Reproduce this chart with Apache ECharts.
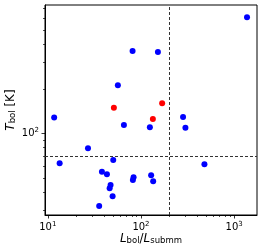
<!DOCTYPE html>
<html><head><meta charset="utf-8">
<script src="https://cdn.jsdelivr.net/npm/echarts@6/dist/echarts.min.js"></script>
<style>html,body{margin:0;padding:0;background:#fff;overflow:hidden}#c{width:266px;height:252px}</style>
</head><body><div id="c"></div>
<script>
// Data (L_bol/L_submm, T_bol [K])
const blueX = [1375, 81.3, 152, 56.5, 11.7, 65.6, 124.6, 283, 300, 27.0, 13.4, 50.4, 480, 38.1, 43.1, 128.6, 83.3, 81.9, 135.2, 47.2, 46.1, 49.6, 35.6];
const blueY = [608, 360, 354, 211, 128, 114, 110, 129, 109, 79.2, 62.7, 66.0, 61.7, 55.0, 52.8, 52.0, 50.5, 48.3, 47.4, 44.7, 42.5, 37.5, 32.3];
const redX = [51.2, 168.8, 134.2];
const redY = [149, 159.5, 124.9];
const xMajorTicks = [10, 100, 1000];
const xMinorTicks = [20, 30, 40, 50, 60, 70, 80, 90, 200, 300, 400, 500, 600, 700, 800, 900];
const yMajorTicks = [100];
const yMinorTicks = [30, 40, 50, 60, 70, 80, 90, 200, 300, 400, 500, 600, 700];
const xCut = 200;
const yCut = 70;
const xRange = [9.33, 1760];
const yRange = [28.06, 736];

const FONT = 'DejaVu Sans';
const pow10Label = v => '{b|10}{s|' + Math.round(Math.log10(v)) + '}';
const tickRich = {
  b: {fontFamily: FONT, fontSize: 10, color: '#000', lineHeight: 13},
  s: {fontFamily: FONT, fontSize: 7, color: '#000', verticalAlign: 'top', lineHeight: 9}
};

function axis(dim, range, major, minor, isMinor, name, nameGap) {
  const base = {
    type: 'log', logBase: 10, min: range[0], max: range[1],
    position: dim === 'x' ? 'bottom' : 'left',
    splitLine: {show: false}, minorTick: {show: false}, minorSplitLine: {show: false},
  };
  if (isMinor) {
    return Object.assign(base, {
      axisLine: {show: false},
      axisTick: {show: true, customValues: minor, length: 2, lineStyle: {color: '#000', width: 0.7}},
      axisLabel: {show: false}
    });
  }
  return Object.assign(base, {
    axisLine: {show: true, lineStyle: {color: '#000', width: 1}},
    axisTick: {show: true, customValues: major, length: 3.5, lineStyle: {color: '#000', width: 0.8}},
    axisLabel: {show: true, customValues: major, formatter: pow10Label, rich: tickRich, margin: 6},
    name: name, nameLocation: 'middle', nameGap: nameGap, nameMoveOverlap: false,
    nameTextStyle: {
      rich: {
        i: {fontFamily: FONT, fontSize: 12, fontStyle: 'italic', color: '#000'},
        n: {fontFamily: FONT, fontSize: 12, color: '#000'},
        sub: {fontFamily: FONT, fontSize: 8.5, color: '#000', verticalAlign: 'bottom', lineHeight: 10}
      }
    }
  });
}

const chart = echarts.init(document.getElementById('c'), null, {renderer: 'canvas'});
chart.setOption({
  animation: false,
  backgroundColor: '#fff',
  grid: {left: 45, top: 5, width: 212, height: 210, show: true, borderColor: '#000', borderWidth: 1, backgroundColor: 'transparent', outerBoundsMode: 'none', containLabel: false},
  xAxis: [
    axis('x', xRange, xMajorTicks, xMinorTicks, false, '{i|L}{sub|bol}{n|/}{i|L}{sub|submm}', 18),
    axis('x', xRange, xMajorTicks, xMinorTicks, true)
  ],
  yAxis: [
    axis('y', yRange, yMajorTicks, yMinorTicks, false, '{i|T}{sub|bol}{n| [K]}', 28),
    axis('y', yRange, yMajorTicks, yMinorTicks, true)
  ],
  series: [
    {
      type: 'scatter', xAxisIndex: 0, yAxisIndex: 0,
      data: blueX.map((x, i) => [x, blueY[i]]),
      symbol: 'circle', symbolSize: 6,
      itemStyle: {color: '#0000ff', opacity: 1},
      markLine: {
        silent: true, symbol: ['none', 'none'], label: {show: false},
        lineStyle: {type: [3, 2], color: '#333', width: 1},
        data: [{xAxis: xCut}, {yAxis: yCut}]
      }
    },
    {
      type: 'scatter', xAxisIndex: 0, yAxisIndex: 0,
      data: redX.map((x, i) => [x, redY[i]]),
      symbol: 'circle', symbolSize: 6,
      itemStyle: {color: '#ff0000', opacity: 1}
    }
  ]
});
</script>
</body></html>
